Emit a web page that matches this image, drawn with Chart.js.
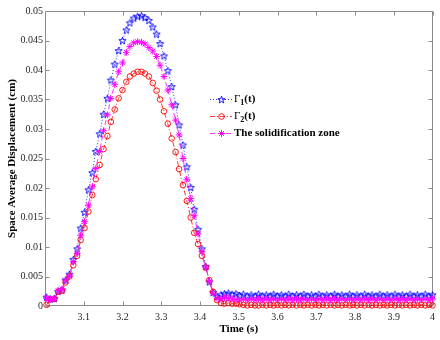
<!DOCTYPE html>
<html><head><meta charset="utf-8">
<script src="https://cdn.jsdelivr.net/npm/chart.js@4.4.1/dist/chart.umd.min.js"></script>
<style>html,body{margin:0;padding:0;background:#fff}#wrap{width:440px;height:340px}</style>
</head><body><div id="wrap"><canvas id="c" width="440" height="340"></canvas></div>
<script>
// time samples (s)
const times = [
3.004,3.014,3.024,3.034,3.044,3.053,3.063,3.073,3.083,3.092,
3.102,3.112,3.122,3.131,3.141,3.151,3.161,3.170,3.180,3.190,
3.200,3.210,3.219,3.229,3.239,3.249,3.258,3.268,3.278,3.288,
3.297,3.307,3.317,3.327,3.337,3.346,3.356,3.366,3.376,3.385,
3.395,3.405,3.415,3.424,3.434,3.444,3.454,3.463,3.473,3.483,
3.493,3.502,3.512,3.522,3.532,3.542,3.551,3.561,3.571,3.581,
3.590,3.600,3.610,3.620,3.629,3.639,3.649,3.659,3.668,3.678,
3.688,3.698,3.707,3.717,3.727,3.737,3.747,3.756,3.766,3.776,
3.786,3.795,3.805,3.815,3.825,3.835,3.844,3.854,3.864,3.874,
3.883,3.893,3.903,3.913,3.922,3.932,3.942,3.952,3.961,3.971,
3.981,3.991,4.000];

// Gamma_1(t)
const gamma1 = [
0.0015,0.0012,0.0013,0.0025,0.0027,0.0044,0.0054,0.0079,0.0097,0.0132,
0.0159,0.0197,0.0226,0.0262,0.0292,0.0325,0.0352,0.0383,0.0410,0.0433,
0.0450,0.0468,0.0480,0.0488,0.0491,0.0492,0.0489,0.0484,0.0473,0.0461,
0.0445,0.0424,0.0399,0.0372,0.0341,0.0307,0.0273,0.0236,0.0201,0.0164,
0.0130,0.0097,0.0067,0.0041,0.0023,0.0016,
0.0019,0.0021,0.0022,0.0020,0.0021,0.0018,0.0020,0.0017,0.0019,0.0017,
0.0020,0.0017,0.0019,0.0017,0.0020,0.0017,0.0019,0.0017,0.0020,0.0017,
0.0019,0.0017,0.0020,0.0017,0.0019,0.0017,0.0020,0.0017,0.0019,0.0017,
0.0020,0.0017,0.0019,0.0017,0.0020,0.0017,0.0019,0.0017,0.0020,0.0017,
0.0019,0.0017,0.0020,0.0017,0.0019,0.0017,0.0020,0.0017,0.0019,0.0017,
0.0020,0.0017,0.0019,0.0017,0.0020,0.0017,0.0019];

// Gamma_2(t)
const gamma2 = [
0.0002,0.0011,0.0012,0.0024,0.0026,0.0040,0.0050,0.0069,0.0085,0.0112,
0.0132,0.0160,0.0188,0.0215,0.0239,0.0266,0.0288,0.0312,0.0333,0.0352,
0.0366,0.0380,0.0389,0.0394,0.0397,0.0397,0.0394,0.0389,0.0378,0.0365,
0.0350,0.0330,0.0309,0.0284,0.0261,0.0232,0.0205,0.0178,0.0150,0.0124,
0.0105,0.0085,0.0065,0.0044,0.0024,0.0010,
0.0005,0.0004,0.0005,0.0004,0.0004,0.0003,0.0002,0.0001,0.0002,0.0001,
0.0001,0.0002,0.0001,0.0002,0.0001,0.0002,0.0001,0.0002,0.0001,0.0002,
0.0001,0.0002,0.0001,0.0002,0.0001,0.0002,0.0001,0.0002,0.0001,0.0002,
0.0001,0.0002,0.0001,0.0002,0.0001,0.0002,0.0001,0.0002,0.0001,0.0002,
0.0001,0.0002,0.0001,0.0002,0.0001,0.0002,0.0001,0.0002,0.0001,0.0002,
0.0001,0.0002,0.0001,0.0002,0.0001,0.0002,0.0001];

// The solidification zone
const zone = [
0.0013,0.0011,0.0012,0.0026,0.0029,0.0044,0.0051,0.0075,0.0089,0.0120,
0.0143,0.0171,0.0202,0.0233,0.0262,0.0297,0.0324,0.0352,0.0375,0.0397,
0.0412,0.0430,0.0440,0.0446,0.0448,0.0447,0.0444,0.0438,0.0432,0.0423,
0.0408,0.0389,0.0366,0.0341,0.0315,0.0290,0.0250,0.0214,0.0182,0.0153,
0.0122,0.0092,0.0066,0.0041,0.0022,0.0013,
0.0012,0.0014,0.0013,0.0012,0.0011,0.0010,0.0012,0.0010,0.0012,0.0010,
0.0012,0.0010,0.0012,0.0010,0.0012,0.0010,0.0012,0.0010,0.0012,0.0010,
0.0012,0.0010,0.0012,0.0010,0.0012,0.0010,0.0012,0.0010,0.0012,0.0010,
0.0012,0.0010,0.0012,0.0010,0.0012,0.0010,0.0012,0.0010,0.0012,0.0010,
0.0012,0.0010,0.0012,0.0010,0.0012,0.0010,0.0012,0.0010,0.0012,0.0010,
0.0012,0.0010,0.0012,0.0010,0.0012,0.0010,0.0012];

const xTicks = [3.1,3.2,3.3,3.4,3.5,3.6,3.7,3.8,3.9,4];
const yTicks = [0,0.005,0.01,0.015,0.02,0.025,0.03,0.035,0.04,0.045,0.05];
const xTitle = 'Time (s)';
const yTitle = 'Space Average Displacement (cm)';
const zoneName = 'The solidification zone';

const SERIF = "'Liberation Serif','Times New Roman',serif";

function makePentagram(color, R) {
  const s = Math.ceil(2 * R + 3);
  const c = document.createElement('canvas');
  c.width = s; c.height = s;
  const g = c.getContext('2d');
  g.translate(s / 2, s / 2 + 0.4);
  g.beginPath();
  for (let i = 0; i < 10; i++) {
    const a = -Math.PI / 2 + i * Math.PI / 5;
    const r = (i % 2) ? R * 0.4 : R;
    const px = r * Math.cos(a), py = r * Math.sin(a);
    if (i === 0) g.moveTo(px, py); else g.lineTo(px, py);
  }
  g.closePath();
  g.strokeStyle = color; g.lineWidth = 0.9;
  g.stroke();
  return c;
}
const pent = makePentagram('#0000ff', 3.8);

const pts = arr => times.map((t, i) => ({x: t, y: arr[i]}));

const styles = [
  {label: 'G1', color: '#0000ff', dash: [1, 2], point: pent, r: 4},
  {label: 'G2', color: '#ff0000', dash: [5, 2, 1, 2], point: 'circle', r: 2.8},
  {label: zoneName, color: '#ff00ff', dash: [5, 3], point: 'star', r: 3.4}
];

const boxPlugin = {
  id: 'box',
  beforeDatasetsDraw(chart) {
    const {ctx, chartArea: a, scales: {x, y}} = chart;
    ctx.save();
    ctx.strokeStyle = '#8c8c8c';
    ctx.lineWidth = 1;
    const L = Math.round(a.left) + 0.5, R = Math.round(a.right) - 0.5;
    const T = Math.round(a.top) + 0.5, B = Math.round(a.bottom) - 0.5;
    ctx.beginPath();
    ctx.rect(L, T, R - L, B - T);
    xTicks.forEach(v => {
      const p = Math.round(x.getPixelForValue(v)) + 0.5;
      ctx.moveTo(p, B); ctx.lineTo(p, B - 4);
      ctx.moveTo(p, T); ctx.lineTo(p, T + 4);
    });
    yTicks.forEach(v => {
      const p = Math.round(y.getPixelForValue(v)) + 0.5;
      ctx.moveTo(L, p); ctx.lineTo(L + 4, p);
      ctx.moveTo(R, p); ctx.lineTo(R - 4, p);
    });
    ctx.stroke();
    ctx.restore();
  }
};

const legendPlugin = {
  id: 'customLegend',
  afterDraw(chart) {
    const ctx = chart.ctx;
    const rows = [99.5, 116.5, 133.5];
    const x0 = 210, x1 = 232, xm = 221.5, xt = 234;
    ctx.save();
    styles.forEach((s, i) => {
      const yy = rows[i];
      ctx.strokeStyle = s.color; ctx.lineWidth = 0.8;
      ctx.setLineDash(s.dash);
      ctx.beginPath(); ctx.moveTo(x0, yy); ctx.lineTo(x1, yy); ctx.stroke();
      ctx.setLineDash([]);
      if (s.point === 'circle') {
        ctx.lineWidth = 0.9;
        ctx.beginPath(); ctx.arc(xm, yy, s.r, 0, Math.PI * 2); ctx.stroke();
      } else if (s.point === 'star') {
        ctx.lineWidth = 1;
        ctx.beginPath();
        for (let k = 0; k < 4; k++) {
          const an = k * Math.PI / 4;
          ctx.moveTo(xm - s.r * Math.cos(an), yy - s.r * Math.sin(an));
          ctx.lineTo(xm + s.r * Math.cos(an), yy + s.r * Math.sin(an));
        }
        ctx.stroke();
      } else {
        ctx.drawImage(s.point, xm - s.point.width / 2, yy - s.point.height / 2);
      }
      ctx.fillStyle = '#000';
      ctx.textBaseline = 'middle';
      ctx.textAlign = 'left';
      let tx = xt;
      if (i < 2) {
        ctx.font = '11px ' + SERIF;
        ctx.fillText('Γ', tx, yy);
        tx += ctx.measureText('Γ').width;
        ctx.font = 'bold 8px ' + SERIF;
        ctx.fillText(String(i + 1), tx, yy + 3.5);
        tx += ctx.measureText(String(i + 1)).width;
        ctx.font = 'bold 11px ' + SERIF;
        ctx.fillText('(t)', tx, yy);
      } else {
        ctx.font = 'bold 11px ' + SERIF;
        ctx.fillText(s.label, tx, yy);
      }
    });
    ctx.restore();
  }
};

const fmt = v => String(+(+v).toFixed(3));

new Chart(document.getElementById('c'), {
  type: 'scatter',
  data: {
    datasets: [
      {data: pts(gamma1), showLine: true, borderColor: styles[0].color, borderWidth: 0.8,
       borderDash: styles[0].dash, pointStyle: pent, pointRadius: 4,
       pointBorderColor: styles[0].color, pointBackgroundColor: 'rgba(0,0,0,0)', order: 2, clip: false},
      {data: pts(gamma2), showLine: true, borderColor: styles[1].color, borderWidth: 0.8,
       borderDash: styles[1].dash, pointStyle: 'circle', pointRadius: 2.8, pointBorderWidth: 0.9,
       pointBorderColor: styles[1].color, pointBackgroundColor: 'rgba(0,0,0,0)', order: 1, clip: false},
      {data: pts(zone), showLine: true, borderColor: styles[2].color, borderWidth: 0.8,
       borderDash: styles[2].dash, pointStyle: 'star', pointRadius: 3.4, pointBorderWidth: 1,
       pointBorderColor: styles[2].color, pointBackgroundColor: 'rgba(0,0,0,0)', order: 0, clip: false}
    ]
  },
  options: {
    responsive: false, animation: false, devicePixelRatio: 1,
    layout: {padding: {top: 11, right: 7, left: 0, bottom: 0}},
    plugins: {legend: {display: false}, tooltip: {enabled: false}},
    scales: {
      x: {
        type: 'linear', min: 3, max: 4,
        afterBuildTicks: s => { s.ticks = xTicks.map(v => ({value: v})); },
        afterFit: s => { s.height = 34; },
        grid: {display: false, drawTicks: false},
        border: {display: false},
        ticks: {color: '#262626', font: {family: SERIF, size: 10}, padding: 5,
                maxRotation: 0, autoSkip: false, callback: fmt},
        title: {display: true, text: xTitle, color: '#000',
                font: {family: SERIF, size: 11, weight: 'bold'}, padding: {top: 0, bottom: 4}}
      },
      y: {
        type: 'linear', min: 0, max: 0.05,
        afterBuildTicks: s => { s.ticks = yTicks.map(v => ({value: v})); },
        afterFit: s => { s.width = 45; },
        grid: {display: false, drawTicks: false},
        border: {display: false},
        ticks: {color: '#262626', font: {family: SERIF, size: 10}, padding: 2,
                autoSkip: false, callback: fmt},
        title: {display: true, text: yTitle, color: '#000',
                font: {family: SERIF, size: 11, weight: 'bold'}, padding: {top: 6, bottom: 0}}
      }
    }
  },
  plugins: [boxPlugin, legendPlugin]
});
</script></body></html>
